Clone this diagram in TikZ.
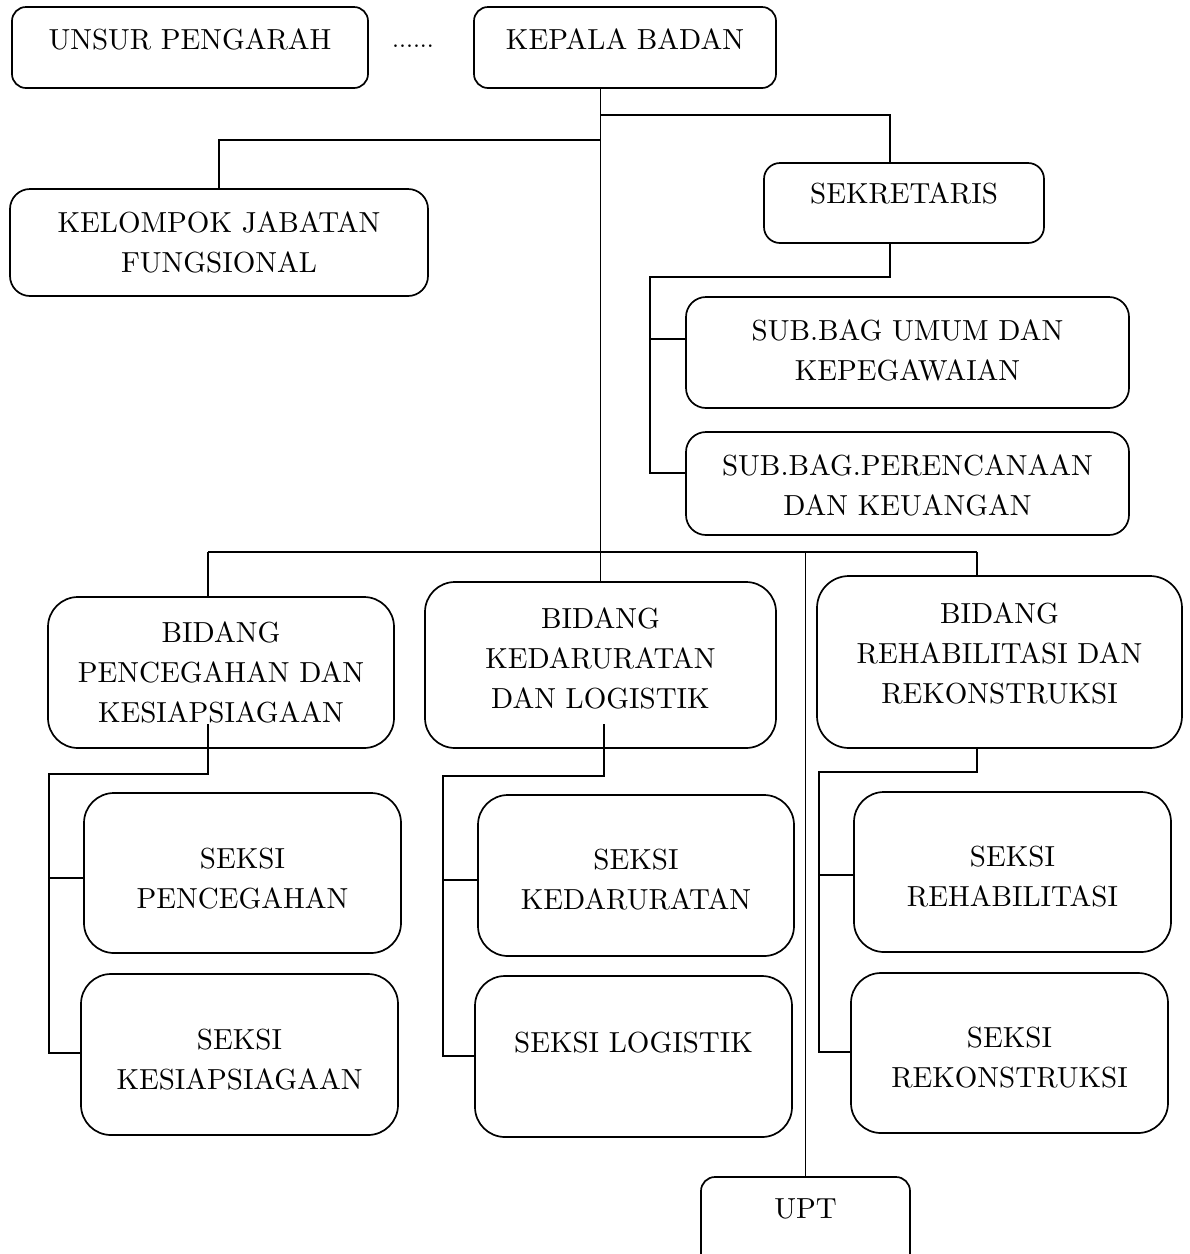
\documentclass[tikz,border=0pt]{standalone}
\usepackage{fontspec}
\setmainfont{lmroman10-regular}[Extension=.otf]
\begin{document}
\begin{tikzpicture}[x=1pt,y=-1pt,
  box/.style={draw, line width=1.7pt, rounded corners=#1, inner sep=0pt},
  box/.default=14pt,
  txt/.style={align=center, font=\fontsize{29}{40}\selectfont, inner sep=0pt},
  conn/.style={line width=1.7pt}]
\useasboundingbox[fill=white] (0,0) rectangle (1190,1254);

% boxes
\node[box] (unsur) at (190,47.5) [minimum width=356pt, minimum height=81pt] {};
\node[box] (kepala) at (625,47.5) [minimum width=302pt, minimum height=81pt] {};
\node[box=20pt] (kelompok) at (219,242.5) [minimum width=418pt, minimum height=107pt] {};
\node[box=16pt] (sek) at (904,203) [minimum width=280pt, minimum height=80pt] {};
\node[box=20pt] (umum) at (907.5,352.5) [minimum width=443pt, minimum height=111pt] {};
\node[box=20pt] (renc) at (907.5,483.5) [minimum width=443pt, minimum height=103pt] {};
\node[box=30pt] (pcg) at (221,672.5) [minimum width=346pt, minimum height=151pt] {};
\node[box=30pt] (kdr) at (600.5,665) [minimum width=351pt, minimum height=166pt] {};
\node[box=32pt] (rhb) at (999.5,662) [minimum width=365pt, minimum height=172pt] {};
\node[box=30pt] (spcg) at (242.5,873) [minimum width=317pt, minimum height=160pt] {};
\node[box=30pt] (sksp) at (239.5,1054.5) [minimum width=317pt, minimum height=161pt] {};
\node[box=30pt] (skdr) at (636,875.5) [minimum width=316pt, minimum height=161pt] {};
\node[box=30pt] (slog) at (633.5,1056.5) [minimum width=317pt, minimum height=161pt] {};
\node[box=30pt] (srhb) at (1012.5,872) [minimum width=317pt, minimum height=160pt] {};
\node[box=30pt] (srek) at (1009.5,1053) [minimum width=317pt, minimum height=160pt] {};
\node[box] (upt) at (805.5,1223.5) [minimum width=209pt, minimum height=93pt] {};

% texts
\node[txt] (unsurt) at (190,39) {UNSUR PENGARAH};
\node[inner sep=0pt, font=\fontsize{25}{28}\selectfont, anchor=base] (dots) at (413,47) {......};
\node[txt] (kepalat) at (625,39) {KEPALA BADAN};
\node[txt] (kelompokt) at (219,242) {KELOMPOK JABATAN\\FUNGSIONAL};
\node[txt] (sekt) at (904,193) {SEKRETARIS};
\node[txt] (umumt) at (907.5,350) {SUB.BAG UMUM DAN\\KEPEGAWAIAN};
\node[txt] (renct) at (907.5,485.5) {SUB.BAG.PERENCANAAN\\DAN KEUANGAN};
\node[txt] (pcgt) at (221,672) {BIDANG\\PENCEGAHAN DAN\\KESIAPSIAGAAN};
\node[txt] (kdrt) at (600.5,658) {BIDANG\\KEDARURATAN\\DAN LOGISTIK};
\node[txt] (rhbt) at (999.5,653) {BIDANG\\REHABILITASI DAN\\REKONSTRUKSI};
\node[txt] (spcgt) at (242.5,879) {SEKSI\\PENCEGAHAN};
\node[txt] (skspt) at (239.5,1060) {SEKSI\\KESIAPSIAGAAN};
\node[txt] (skdrt) at (636,880) {SEKSI\\KEDARURATAN};
\node[txt] (slogt) at (633.5,1043) {SEKSI LOGISTIK};
\node[txt] (srhbt) at (1012.5,877) {SEKSI\\REHABILITASI};
\node[txt] (srekt) at (1009.5,1058) {SEKSI\\REKONSTRUKSI};
\node[txt] (uptt) at (805.5,1209) {UPT};

% junction coordinates
\coordinate (j1) at (600.5,115);
\coordinate (j1r) at (890,115);
\coordinate (j2) at (600.5,140);
\coordinate (j3) at (650,277);
\coordinate (t1) at (650,339);
\coordinate (t2) at (650,473);
\coordinate (bL) at (208,552);
\coordinate (bR) at (977,552);
\coordinate (pin) at (208,724);
\coordinate (pj) at (49,774);
\coordinate (pt1) at (49,878);
\coordinate (pt2) at (49,1053);
\coordinate (kin) at (604,724);
\coordinate (kj) at (443,776);
\coordinate (kt1) at (443,880);
\coordinate (kt2) at (443,1056);
\coordinate (rj) at (819,772);
\coordinate (rt1) at (819,875);
\coordinate (rt2) at (819,1052);

% connectors
\draw[conn] (kepala.south -| kdr.north) -- (kdr.north);
\draw[conn] (j1) -- (j1r) -- (j1r |- sek.north);
\draw[conn] (j2) -| (kelompok.north);
\draw[conn] (sek.south -| j1r) |- (j3) -- (t2) -- (t2 -| renc.west);
\draw[conn] (t1) -- (t1 -| umum.west);
\draw[conn] (bL) -- (bR);
\draw[conn] (bL) -- (bL |- pcg.north);
\draw[conn] (bR) -- (bR |- rhb.north);
\draw[conn] (bR -| upt.north) -- (upt.north);
\draw[conn] (pin) |- (pj) -- (pt2) -- (pt2 -| sksp.west);
\draw[conn] (pt1) -- (pt1 -| spcg.west);
\draw[conn] (kin) |- (kj) -- (kt2) -- (kt2 -| slog.west);
\draw[conn] (kt1) -- (kt1 -| skdr.west);
\draw[conn] (rhb.south -| bR) |- (rj) -- (rt2) -- (rt2 -| srek.west);
\draw[conn] (rt1) -- (rt1 -| srhb.west);
\end{tikzpicture}
\end{document}
